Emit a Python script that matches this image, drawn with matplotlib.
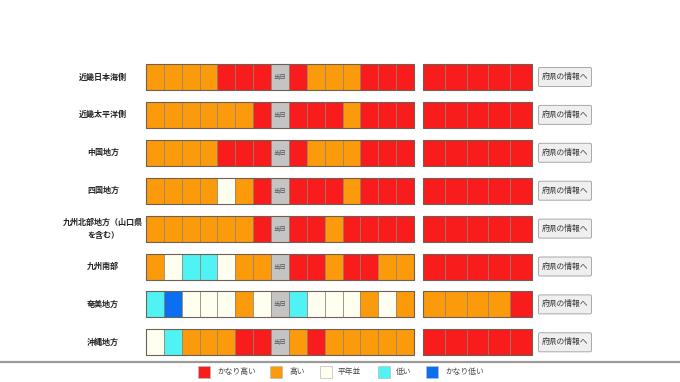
import matplotlib.pyplot as plt
from matplotlib.patches import Rectangle, FancyBboxPatch

plt.rcParams['font.family'] = ['Noto Sans CJK JP', 'DejaVu Sans']

# Data: 2=かなり高い, 1=高い, 0=平年並, -1=低い, -2=かなり低い, None=当日
regions = ['近畿日本海側', '近畿太平洋側', '中国地方', '四国地方',
           '九州北部地方（山口県\nを含む）', '九州南部', '奄美地方', '沖縄地方']
daily = [
    [1, 1, 1, 1, 2, 2, 2, None, 2, 1, 1, 1, 2, 2, 2],
    [1, 1, 1, 1, 1, 1, 2, None, 2, 2, 2, 1, 2, 2, 2],
    [1, 1, 1, 1, 2, 2, 2, None, 2, 1, 1, 1, 2, 2, 2],
    [1, 1, 1, 1, 0, 1, 2, None, 2, 2, 2, 1, 2, 2, 2],
    [1, 1, 1, 1, 1, 1, 2, None, 2, 2, 1, 2, 2, 2, 2],
    [1, 0, -1, -1, 0, 1, 1, None, 2, 2, 1, 2, 2, 1, 1],
    [-1, -2, 0, 0, 0, 1, 0, None, -1, 0, 0, 0, 1, 0, 1],
    [0, -1, 1, 1, 1, 2, 2, None, 1, 2, 1, 1, 1, 1, 1],
]
weekly = [
    [2, 2, 2, 2, 2],
    [2, 2, 2, 2, 2],
    [2, 2, 2, 2, 2],
    [2, 2, 2, 2, 2],
    [2, 2, 2, 2, 2],
    [2, 2, 2, 2, 2],
    [1, 1, 1, 1, 2],
    [2, 2, 2, 2, 2],
]
legend_codes = [2, 1, 0, -1, -2]
legend_labels = ['かなり高い', '高い', '平年並', '低い', 'かなり低い']

colors = {2: '#f81c1c', 1: '#fb9a0b', 0: '#fffff0', -1: '#4ff3f3', -2: '#0b6ff0', None: '#c4c4c4'}

fig = plt.figure(figsize=(6.8, 3.82), dpi=100)
ax = fig.add_axes([0, 0, 1, 1])
ax.set_xlim(0, 680)
ax.set_ylim(382, 0)
ax.axis('off')

row_top, row_step, row_h = 64, 37.9, 26
left_x, left_w = 146, 268 / 15
right_x, right_w = 423, 109 / 5

for i, name in enumerate(regions):
    y = row_top + i * row_step
    ax.text(103, y + row_h / 2, name, ha='center', va='center', fontsize=5.8,
            fontweight='bold', color='#222222', linespacing=1.6)
    for j, v in enumerate(daily[i]):
        x = left_x + j * left_w
        ax.add_patch(Rectangle((x, y), left_w, row_h, facecolor=colors[v],
                               edgecolor='#8f7f70', lw=0.5))
        if v is None:
            ax.text(x + left_w / 2, y + row_h / 2, '当日', ha='center', va='center',
                    fontsize=4.6, color='#555555')
    ax.add_patch(Rectangle((left_x, y), left_w * 15, row_h, fill=False,
                           edgecolor='#6e6055', lw=0.8))
    for j, v in enumerate(weekly[i]):
        x = right_x + j * right_w
        ax.add_patch(Rectangle((x, y), right_w, row_h, facecolor=colors[v],
                               edgecolor='#8f7f70', lw=0.5))
    ax.add_patch(Rectangle((right_x, y), right_w * 5, row_h, fill=False,
                           edgecolor='#6e6055', lw=0.8))
    ax.add_patch(FancyBboxPatch((538.5, y + 3.5), 53, row_h - 7,
                                boxstyle='round,pad=0,rounding_size=1.5',
                                facecolor='#efefef', edgecolor='#a8a8a8', lw=0.7))
    ax.text(565, y + row_h / 2, '府県の情報へ', ha='center', va='center',
            fontsize=5.6, color='#333333')

# bottom legend
ax.plot([0, 680], [362, 362], color='#9a9a9a', lw=1.6)
sq_x = [198, 270, 320, 378, 426]
txt_x = [217, 290, 338, 396, 445]
for c, lab, sx, tx in zip(legend_codes, legend_labels, sq_x, txt_x):
    ax.add_patch(Rectangle((sx, 366), 12, 12, facecolor=colors[c],
                           edgecolor='#bbbbbb', lw=0.5))
    ax.text(tx, 372, lab, ha='left', va='center', fontsize=5.6, color='#444444')

fig.savefig('out.png', dpi=100)
